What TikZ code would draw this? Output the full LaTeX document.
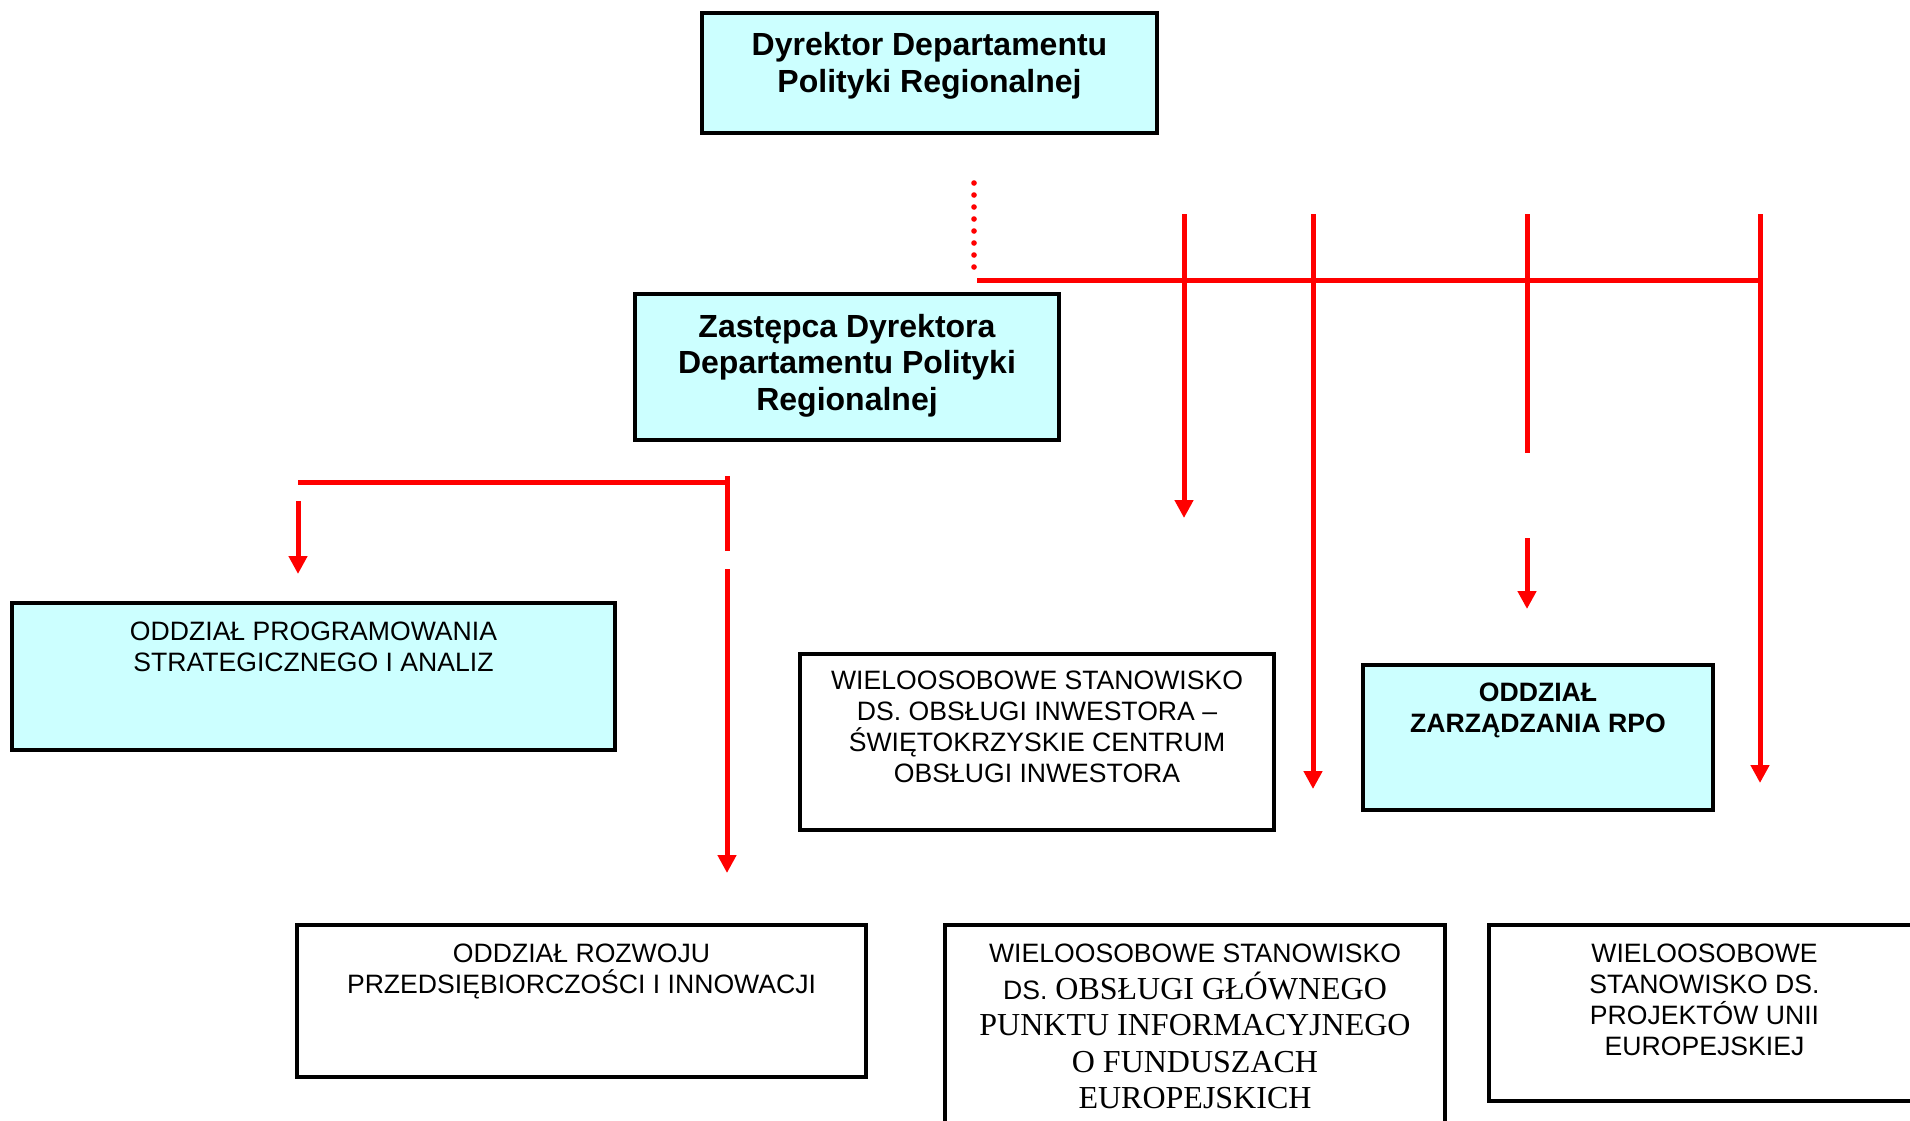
\documentclass[tikz,border=0pt]{standalone}
\usepackage{fontspec}
\setmainfont{Liberation Sans}
\newfontfamily\tmsfont{Liberation Serif}
\usetikzlibrary{arrows.meta,positioning}
\definecolor{jasnyniebieski}{HTML}{CCFFFF}
\definecolor{czerwony}{HTML}{FF0000}

\begin{document}
\begin{tikzpicture}[x=0.5pt,y=-0.5pt,
  box/.style={draw,line width=2pt,rectangle,inner sep=0pt},
  cyanbox/.style={box,fill=jasnyniebieski},
  txt/.style={inner sep=0pt,align=center,font=\fontsize{13.3}{15.4}\selectfont},
  btxt/.style={inner sep=0pt,align=center,font=\bfseries\fontsize{16}{18.5}\selectfont},
  linia/.style={draw=czerwony,line width=2.5pt},
  strz/.style={linia,-{Triangle[width=9pt,length=9pt]}}]

\useasboundingbox (0,0) rectangle (1910,1120);

% dyrekcja
\node[cyanbox,minimum width=227.5pt,minimum height=60pt] (dyr) at (929.5,73) {};
\node[btxt,below=10.5pt of dyr.north] (dyr-t) {Dyrektor Departamentu\\Polityki Regionalnej};

\node[cyanbox,minimum width=212pt,minimum height=73pt] (zast) at (847,367) {};
\node[btxt,font=\bfseries\fontsize{16}{18.25}\selectfont,below=10.75pt of zast.north] (zast-t) {Zastępca Dyrektora\\Departamentu Polityki\\Regionalnej};

% oddzialy i stanowiska
\node[cyanbox,minimum width=301.5pt,minimum height=73.5pt] (progr) at (313.5,676.5) {};
\node[txt,below=10.5pt of progr.north] (progr-t) {ODDZIAŁ PROGRAMOWANIA\\STRATEGICZNEGO I ANALIZ};

\node[box,minimum width=237pt,minimum height=88pt] (inwest) at (1037,742) {};
\node[txt,below=9.5pt of inwest.north] (inwest-t) {WIELOOSOBOWE STANOWISKO\\DS. OBSŁUGI INWESTORA --\\ŚWIĘTOKRZYSKIE CENTRUM\\OBSŁUGI INWESTORA};

\node[cyanbox,minimum width=175pt,minimum height=72.5pt] (rpo) at (1538,737.5) {};
\node[txt,font=\bfseries\fontsize{13.3}{15.4}\selectfont,below=10pt of rpo.north] (rpo-t) {ODDZIAŁ\\ZARZĄDZANIA RPO};

\node[box,minimum width=284.5pt,minimum height=76pt] (rozw) at (581.5,1001) {};
\node[txt,below=10.5pt of rozw.north] (rozw-t) {ODDZIAŁ ROZWOJU\\PRZEDSIĘBIORCZOŚCI I INNOWACJI};

\node[box,minimum width=250pt,minimum height=105pt] (gpi) at (1195,1030) {};
\node[txt,font=\tmsfont\fontsize{16}{18.25}\selectfont,below=10.5pt of gpi.north] (gpi-t)
  {{\rmfamily\fontsize{13.3}{15.4}\selectfont WIELOOSOBOWE STANOWISKO}\\{\rmfamily\fontsize{13.3}{15.4}\selectfont DS.} OBSŁUGI GŁÓWNEGO\\PUNKTU INFORMACYJNEGO\\O FUNDUSZACH\\EUROPEJSKICH};

\node[box,minimum width=215.5pt,minimum height=88pt] (proj) at (1704.5,1013) {};
\node[txt,below=10.5pt of proj.north] (proj-t) {WIELOOSOBOWE\\STANOWISKO DS.\\PROJEKTÓW UNII\\EUROPEJSKIEJ};

% linie
\coordinate (kropki-a) at (974,183);
\coordinate (kropki-b) at (974,278);
\draw[czerwony,line width=2.8pt,line cap=round,dash pattern=on 0pt off 6pt] (kropki-a) -- (kropki-b);

\coordinate (szyna-l) at (977,280);
\coordinate (szyna-p) at (1760,280);
\draw[linia] (szyna-l) -- (szyna-p);

\foreach \x/\y [count=\i] in {1184/518, 1313/789, 1760/783} {
\coordinate (pion\i-a) at (\x,214);
\coordinate (pion\i-b) at (\x,\y);
\draw[strz] (pion\i-a) -- (pion\i-b);
}
\coordinate (rpo-a) at (1527,214);
\coordinate (rpo-b) at (1527,453);
\coordinate (rpo-c) at (1527,538);
\coordinate (rpo-d) at (1527,609);
\draw[linia] (rpo-a) -- (rpo-b);
\draw[strz] (rpo-c) -- (rpo-d);

\coordinate (lewa-l) at (298,482);
\coordinate (lewa-p) at (727,482);
\draw[linia] (lewa-l) -- (lewa-p);
\coordinate (lewa-a) at (727,476);
\coordinate (lewa-b) at (727,551);
\coordinate (lewa-c) at (727,569);
\coordinate (lewa-d) at (727,873);
\draw[linia] (lewa-a) -- (lewa-b);
\draw[strz] (lewa-c) -- (lewa-d);
\coordinate (progr-a) at (298,501);
\coordinate (progr-b) at (298,574);
\draw[strz] (progr-a) -- (progr-b);
\end{tikzpicture}
\end{document}
